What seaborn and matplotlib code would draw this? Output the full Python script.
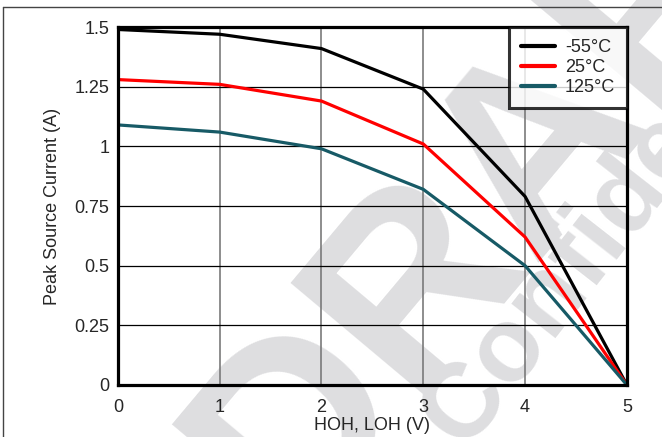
import matplotlib
matplotlib.use('Agg')
import matplotlib.pyplot as plt
from matplotlib.lines import Line2D
import pandas as pd
import seaborn as sns

# data
voltage = [0, 1, 2, 3, 4, 5]
temps = ['-55°C', '25°C', '125°C']
current_m55 = [1.49, 1.47, 1.41, 1.24, 0.79, 0.0]
current_25 = [1.28, 1.26, 1.19, 1.01, 0.62, 0.0]
current_125 = [1.09, 1.06, 0.99, 0.82, 0.50, 0.0]
colors = ['#000000', '#ff0000', '#175a66']
yticks = [0, 0.25, 0.5, 0.75, 1, 1.25, 1.5]
ytick_labels = ['0', '0.25', '0.5', '0.75', '1', '1.25', '1.5']

df = pd.DataFrame({
    'V': voltage * 3,
    'I': current_m55 + current_25 + current_125,
    'Temp': [t for t in temps for _ in voltage],
})

sns.set_style('white')
plt.rcParams['font.family'] = ['Liberation Sans', 'DejaVu Sans']

fig = plt.figure(figsize=(6.62, 4.37), dpi=100)
ax = fig.add_axes([0.178, 0.119, 0.769, 0.819])
ax.set_facecolor('none')

# watermark behind everything
wm = '#dedee0'
fig.text(0.785, 0.63, 'DRAFT', fontsize=185, fontweight='bold', color=wm,
         rotation=50, ha='center', va='center', zorder=-5,
         family='Liberation Sans')
fig.text(0.70, -0.03, 'Confidential', fontsize=76, fontweight='bold', color=wm,
         rotation=52, ha='left', va='baseline', rotation_mode='anchor',
         zorder=-5, family='Liberation Sans')

# page frame lines
fig.add_artist(Line2D([0.005, 0.005], [0, 0.983], color='#444444', lw=1))
fig.add_artist(Line2D([0.005, 1], [0.983, 0.983], color='#444444', lw=1))

sns.lineplot(data=df, x='V', y='I', hue='Temp', hue_order=temps,
             palette=colors, linewidth=2.3, ax=ax, zorder=3)

ax.set_xlim(0, 5)
ax.set_ylim(0, 1.5)
ax.set_xticks(voltage)
ax.set_yticks(yticks)
ax.set_yticklabels(ytick_labels)
ax.tick_params(length=0, labelsize=13)
ax.tick_params(axis='x', pad=10)
ax.tick_params(axis='y', pad=6)
for v in voltage[1:-1]:
    ax.axvline(v, color='#7a7a7a', lw=1.2, zorder=1)
for y in yticks[1:-1]:
    ax.axhline(y, color='#000000', lw=0.9, zorder=1)
for s in ax.spines.values():
    s.set_visible(True)
    s.set_linewidth(2.3)
    s.set_color('black')
    s.set_zorder(4)

ax.set_xlabel('HOH, LOH (V)', fontsize=13, labelpad=1)
ax.set_ylabel('Peak Source Current (A)', fontsize=13, labelpad=10)

leg = ax.legend(loc='upper right', borderaxespad=0, fontsize=13,
                frameon=True, fancybox=False, handlelength=1.9,
                labelspacing=0.17, borderpad=0.65, handletextpad=0.55)
leg.get_frame().set_edgecolor('black')
leg.get_frame().set_linewidth(2.2)
leg.get_frame().set_facecolor('white')
leg.set_zorder(6)
for line in leg.get_lines():
    line.set_linewidth(3)

fig.savefig('out.png', dpi=100)
